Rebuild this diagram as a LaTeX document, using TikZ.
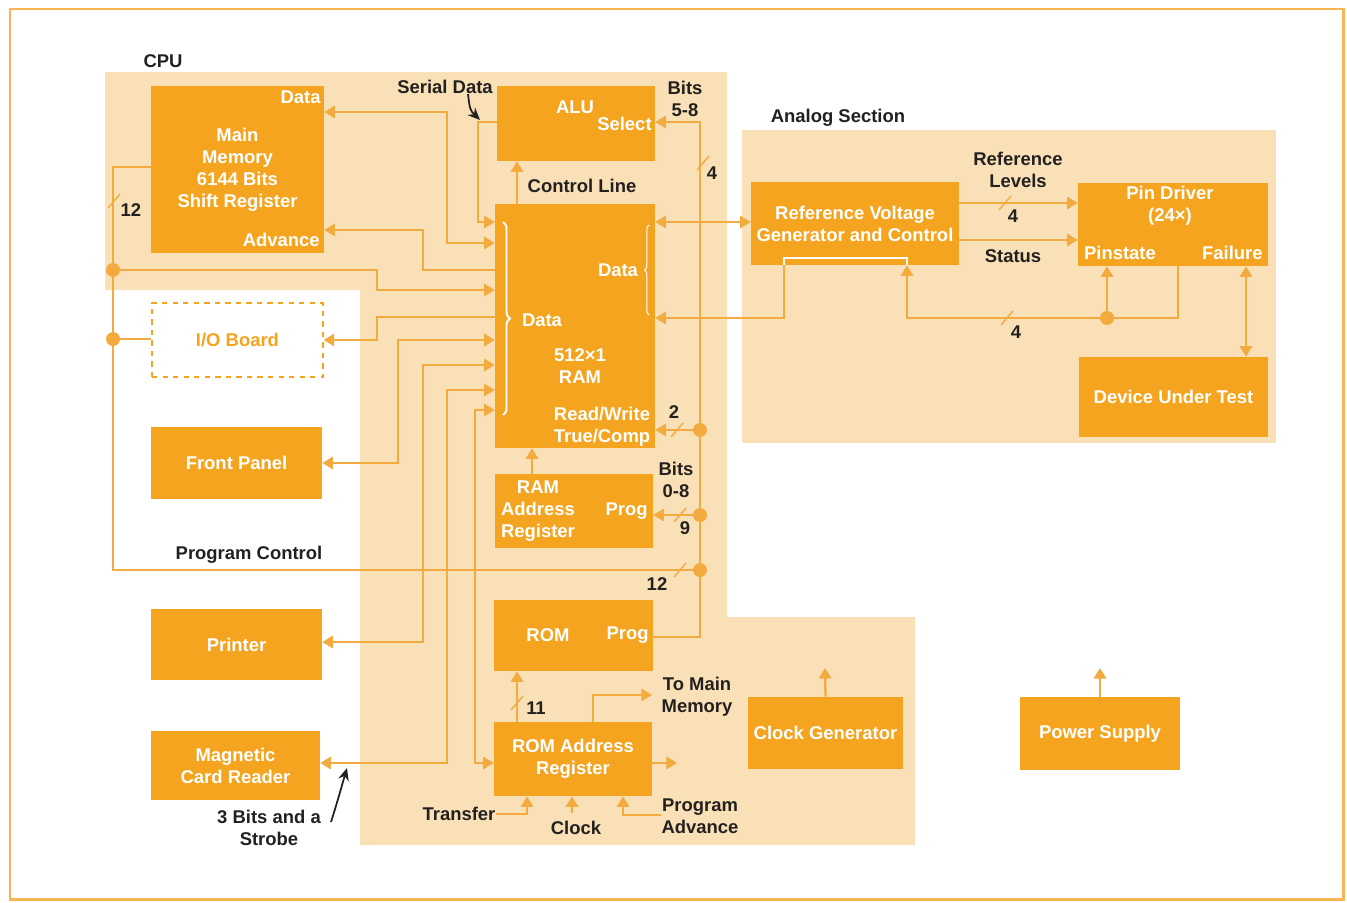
\documentclass[tikz,border=0pt]{standalone}
\usepackage{fontspec}
\setmainfont{Liberation Sans}
\usepackage{tikz}
\usetikzlibrary{arrows.meta,positioning,decorations.pathreplacing}
\definecolor{boxor}{RGB}{245,164,32}
\definecolor{wireor}{RGB}{243,170,62}
\definecolor{panel}{RGB}{250,224,182}
\definecolor{frameor}{RGB}{246,182,84}
\definecolor{ink}{RGB}{35,32,32}

\begin{document}
\begin{tikzpicture}[x=0.02cm,y=-0.02cm,
  >={Triangle[length=6pt,width=7pt]},
  every node/.style={font=\fontsize{10.5}{12.5}\selectfont\bfseries,align=center},
  blk/.style={rectangle,fill=boxor,text=white,inner sep=0pt},
  wtxt/.style={text=white,inner sep=0pt},
  lbl/.style={text=ink,inner sep=0pt},
  wire/.style={draw=wireor,line width=1.3pt},
  dot/.style={circle,fill=wireor,inner sep=0pt,minimum size=0.28cm},
  ptr/.style={draw=ink,line width=1pt,-{Stealth[length=7pt,width=6pt]}}]
  \useasboundingbox (0,0) rectangle (1347,903);
  % frame and the two sections
  \draw[frameor,line width=1.7pt] (10,9) rectangle (1343,899);
  \fill[panel] (105,72) -- (727,72) -- (727,617) -- (915,617) -- (915,845)
    -- (360,845) -- (360,290) -- (105,290) -- cycle;
  \fill[panel] (742,130) rectangle (1276,443);
  \node[lbl] (cpu) at (163,61) {CPU};
  \node[lbl] (analog) at (838,118) {Analog Section};

  % CPU blocks
  \node[blk,minimum width=3.46cm,minimum height=3.34cm] (mm) at (237.5,169.5) {Main\\Memory\\6144 Bits\\Shift Register};
  \node[wtxt,anchor=east] (mmdata) at (321,97) {Data};
  \node[wtxt,anchor=east] (mmadv) at (320,240) {Advance};
  \node[blk,minimum width=3.16cm,minimum height=1.5cm] (alu) at (576,123.5) {};
  \node[wtxt] (alutxt) at (575,107) {ALU};
  \node[wtxt,anchor=east] (alusel) at (652,124) {Select};
  \node[blk,minimum width=3.2cm,minimum height=4.88cm] (ram) at (575,326) {};
  \node[wtxt] (ramdr) at (618,270) {Data};
  \node[wtxt] (ramdl) at (542,320) {Data};
  \node[wtxt] (ramtxt) at (580,366) {512×1\\RAM};
  \node[wtxt] (ramrw) at (602,427) {Read/Write\\True/Comp};
  \node[blk,minimum width=3.16cm,minimum height=1.48cm] (raddr) at (574,511) {};
  \node[wtxt] (raddrtxt) at (538,511) {RAM\\Address\\Register};
  \node[wtxt,anchor=east] (raddrprog) at (648,511) {Prog};
  \node[blk,minimum width=3.18cm,minimum height=1.42cm] (rom) at (573.5,635.5) {};
  \node[wtxt] (romtxt) at (548,635) {ROM};
  \node[wtxt,anchor=east] (romprog) at (649,635) {Prog};
  \node[blk,minimum width=3.16cm,minimum height=1.48cm] (romaddr) at (573,759) {ROM Address\\Register};
  \node[blk,minimum width=3.1cm,minimum height=1.44cm] (clk) at (825.5,733) {Clock Generator};
  \node[blk,minimum width=3.2cm,minimum height=1.46cm] (psu) at (1100,733.5) {Power Supply};

  % peripherals
  \node[rectangle,draw=boxor,dashed,line width=0.8pt,fill=white,text=boxor,minimum width=3.42cm,minimum height=1.48cm] (io) at (237.5,340) {I/O Board};
  \node[blk,minimum width=3.42cm,minimum height=1.44cm] (fp) at (236.5,463) {Front Panel};
  \node[blk,minimum width=3.42cm,minimum height=1.42cm] (prn) at (236.5,644.5) {Printer};
  \node[blk,minimum width=3.38cm,minimum height=1.38cm] (mcr) at (235.5,765.5) {Magnetic\\Card Reader};

  % analog blocks
  \node[blk,minimum width=4.16cm,minimum height=1.66cm] (refv) at (855,223.5) {Reference Voltage\\Generator and Control};
  \node[blk,minimum width=3.8cm,minimum height=1.66cm] (pin) at (1173,224.5) {};
  \node[wtxt] (pintxt) at (1170,206) {Pin Driver\\(24×)};
  \node[wtxt] (pinst) at (1120,253) {Pinstate};
  \node[wtxt,anchor=east] (pinfail) at (1263,253) {Failure};
  \node[blk,minimum width=3.78cm,minimum height=1.6cm] (dut) at (1173.5,397) {Device Under Test};

  % braces
  \draw[white,line width=1.1pt,decorate,decoration={brace,amplitude=4pt}] (503,222) -- (503,415);
  \draw[white,line width=0.6pt,decorate,decoration={brace,amplitude=2.5pt}] (649,315) -- (649,225);
  \draw[white,line width=1pt] (784,265) -- (784,258) -- (907,258) -- (907,265);

  % labels
  \node[lbl] (sdl) at (445,87) {Serial Data};
  \node[lbl] (b58) at (685,99) {Bits\\5-8};
  \node[lbl] (n4a) at (712,173) {4};
  \node[lbl] (ctl) at (582,186) {Control Line};
  \node[lbl] (rlv) at (1018,170) {Reference\\Levels};
  \node[lbl] (n4b) at (1013,216) {4};
  \node[lbl] (sts) at (1013,256) {Status};
  \node[lbl] (n4c) at (1016,332) {4};
  \node[lbl] (n12a) at (131,210) {12};
  \node[lbl] (n2) at (674,412) {2};
  \node[lbl] (b08) at (676,480) {Bits\\0-8};
  \node[lbl] (n9) at (685,528) {9};
  \node[lbl] (n12b) at (657,584) {12};
  \node[lbl] (pgc) at (249,555) {Program Control};
  \node[lbl] (n11) at (536,708) {11};
  \node[lbl] (tmm) at (697,697) {To Main\\Memory};
  \node[lbl] (trf) at (459,814) {Transfer};
  \node[lbl] (clkl) at (576,828) {Clock};
  \node[lbl] (padv) at (700,816) {Program\\Advance};
  \node[lbl] (strb) at (269,828) {3 Bits and a\\Strobe};

  % junctions
  \node[dot] (jmm) at (113,270) {};
  \node[dot] (jio) at (113,339) {};
  \node[dot] (jrw) at (700,430) {};
  \node[dot] (jpg) at (700,515) {};
  \node[dot] (jpc) at (700,570) {};
  \node[dot] (jps) at (1107,318) {};
  \coordinate (tomain) at (652,695);
  \coordinate (romout) at (677,763);
  \coordinate (clkin) at (572,813);
  \coordinate (clkout) at (825,668);
  \coordinate (psuout) at (1100,668);
  \coordinate (strbtip) at (331,822);

  % program control bus
  \draw[wire] (mm.west |- 0,167) -| (jmm) -- (jio) |- (jpc);
  \draw[wire] (jio) -- (io.west |- jio);
  \draw[wire,->] (rom.east |- 0,637) -| (jpc) -- (jpg) -- (jrw) |- (alu.east |- 0,122);
  \draw[wire,->] (jrw) -- (ram.east |- jrw);
  \draw[wire,->] (jpg) -- (raddr.east |- jpg);
  \draw[wire,->] (jmm) -| (377,290) -- (ram.west |- 0,290);

  % RAM connections
  \draw[wire,->] (alu.west |- 0,122) -| (478,222) -- (ram.west |- 0,222);
  \draw[wire,<->] (mm.east |- 0,112) -| (447,243) -- (ram.west |- 0,243);
  \draw[wire,->] (ram.west |- 0,270) -| (423,230) -- (mm.east |- 0,230);
  \draw[wire,->] (ram.west |- 0,317) -| (377,340) -- (io.east |- 0,340);
  \draw[wire,<->] (fp.east) -| (398,340) -- (ram.west |- 0,340);
  \draw[wire,<->] (prn.east |- 0,642) -| (423,365) -- (ram.west |- 0,365);
  \draw[wire,<->] (mcr.east |- 0,763) -| (447,390) -- (ram.west |- 0,390);
  \draw[wire,<->] (romaddr.west |- 0,763) -| (475,410) -- (ram.west |- 0,410);
  \draw[wire,->] (ram.north -| 517,0) -- (alu.south -| 517,0);
  \draw[wire,->] (raddr.north -| 532,0) -- (ram.south -| 532,0);

  % ROM address register
  \draw[wire,->] (romaddr.north -| 517,0) -- (rom.south -| 517,0);
  \draw[wire,->] (romaddr.north -| 593,0) |- (tomain);
  \draw[wire,->] (romaddr.east |- romout) -- (romout);
  \draw[wire,->] (trf.east) -| (romaddr.south -| 527,0);
  \draw[wire,->] (clkin) -- (romaddr.south -| 572,0);
  \draw[wire,->] (padv.west |- 0,815) -| (romaddr.south -| 623,0);
  \draw[wire,->] (clk.north) -- (clkout);
  \draw[wire,->] (psu.north) -- (psuout);

  % analog section
  \draw[wire,<->] (ram.east |- 0,222) -- (refv.west |- 0,222);
  \draw[wire,->] (refv.south -| 784,0) |- (ram.east |- 0,318);
  \draw[wire,->] (refv.east |- 0,203) -- (pin.west |- 0,203);
  \draw[wire,->] (refv.east |- 0,240) -- (pin.west |- 0,240);
  \draw[wire,->] (pin.south -| 1178,0) |- (jps) -| (refv.south -| 907,0);
  \draw[wire,->] (jps) -- (pin.south -| jps);
  \draw[wire,<->] (pin.south -| 1246,0) -- (dut.north -| 1246,0);

  % bus width marks
  \draw[wire,line width=0.8pt] (108,208) -- (120,194);
  \draw[wire,line width=0.8pt] (697,170) -- (709,156);
  \draw[wire,line width=0.8pt] (671,437) -- (683,423);
  \draw[wire,line width=0.8pt] (674,522) -- (686,508);
  \draw[wire,line width=0.8pt] (674,577) -- (686,563);
  \draw[wire,line width=0.8pt] (511,710) -- (523,696);
  \draw[wire,line width=0.8pt] (999,210) -- (1011,196);
  \draw[wire,line width=0.8pt] (1001,325) -- (1013,311);

  % pointer arrows
  \draw[ptr] (sdl.south -| 468,0) .. controls (470,110) .. (480,120);
  \draw[ptr] (strbtip) .. controls (338,800) and (342,785) .. (347,768);
\end{tikzpicture}
\end{document}
